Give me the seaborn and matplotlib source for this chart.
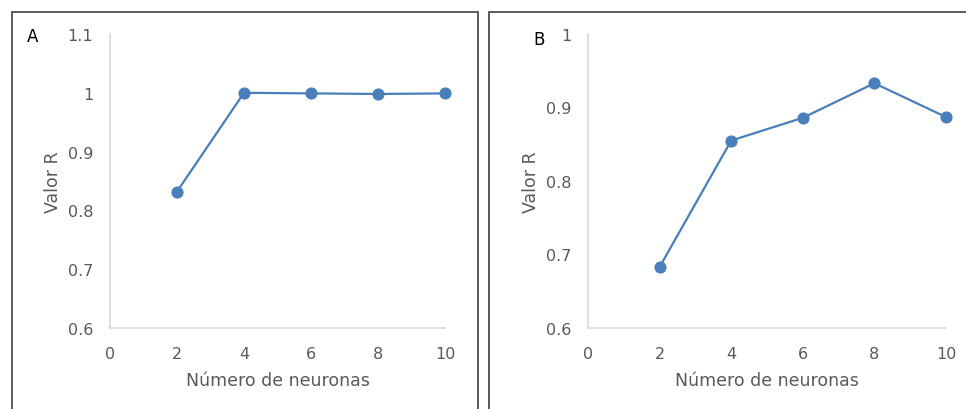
import numpy as np
import pandas as pd
import seaborn as sns
import matplotlib
matplotlib.use("Agg")
import matplotlib.pyplot as plt
from matplotlib.patches import Rectangle
from matplotlib.ticker import FuncFormatter

neurons = [2, 4, 6, 8, 10]
r_a = [0.832, 1.000, 0.999, 0.998, 0.999]
r_b = [0.683, 0.855, 0.886, 0.933, 0.887]
x_ticks = [0, 2, 4, 6, 8, 10]
y_ticks_a = [0.6, 0.7, 0.8, 0.9, 1.0, 1.1]
y_ticks_b = [0.6, 0.7, 0.8, 0.9, 1.0]
panel_labels = ["A", "B"]
xlabel = "Número de neuronas"
ylabel = "Valor R"

sns.set_theme(style="white")
plt.rcParams['font.family'] = ['DejaVu Sans']

W, H = 966, 410
fig = plt.figure(figsize=(W / 100, H / 100), dpi=100)

def fx(px):
    return px / W

def fy(py):
    return 1 - py / H

# panel borders
for (x0, x1) in [(12, 478), (489, 975)]:
    fig.patches.append(Rectangle((fx(x0), fy(420)), fx(x1) - fx(x0), fy(13) - fy(420),
                                 transform=fig.transFigure, fill=False,
                                 edgecolor="#5a5a5a", linewidth=1.4, zorder=0))

color = "#4a7ebb"
gray = "#595959"
specs = [
    (110, 445, r_a, y_ticks_a, (0.6, 1.1), panel_labels[0], (33, 37)),
    (588, 946, r_b, y_ticks_b, (0.6, 1.0), panel_labels[1], (539, 40)),
]
for (x0, x1, vals, yt, ylim, lab, labpos) in specs:
    ax = fig.add_axes([fx(x0), fy(329), fx(x1) - fx(x0), fy(35) - fy(329)])
    df = pd.DataFrame({"n": neurons, "r": vals})
    sns.lineplot(data=df, x="n", y="r", ax=ax, color=color, marker="o",
                 markersize=8, linewidth=1.6, markeredgecolor=color, clip_on=False)
    ax.set_xlim(0, 10)
    ax.set_ylim(*ylim)
    ax.set_xticks(x_ticks)
    ax.set_yticks(yt)
    ax.yaxis.set_major_formatter(FuncFormatter(lambda v, p: f"{v:g}"))
    ax.tick_params(axis="both", length=0, labelsize=11.5, labelcolor=gray)
    ax.tick_params(axis="x", pad=13)
    ax.tick_params(axis="y", pad=12)
    for s in ["top", "right"]:
        ax.spines[s].set_visible(False)
    for s in ["left", "bottom"]:
        ax.spines[s].set_color("#d9d9d9")
        ax.spines[s].set_linewidth(1.2)
    ax.set_xlabel(xlabel, fontsize=12.5, color=gray, labelpad=7)
    ax.set_ylabel(ylabel, fontsize=12.5, color=gray, labelpad=4)
    ax.patch.set_alpha(0)
    fig.text(fx(labpos[0]), fy(labpos[1]), lab, fontsize=12, color="black",
             ha="center", va="center")

fig.savefig("out.png", dpi=100)
